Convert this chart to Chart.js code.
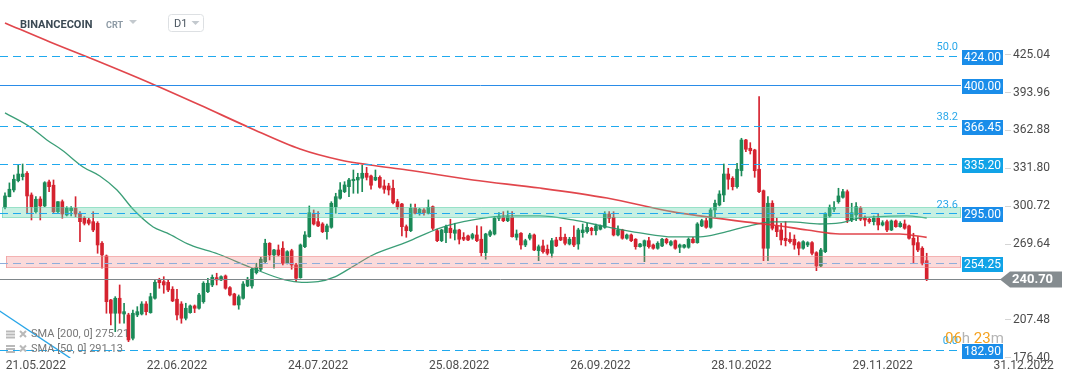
<!DOCTYPE html>
<html><head><meta charset="utf-8">
<script src="https://cdn.jsdelivr.net/npm/chart.js@4.4.1/dist/chart.umd.min.js"></script>
<style>html,body{margin:0;padding:0;background:#fff;}canvas{display:block;}</style>
</head><body>
<canvas id="c" width="1072" height="382"></canvas>
<script>
// ---- data (daily candles, one per day) ----
const opens = [
299.9,308.6,314.1,321.7,325.0,327.8,310.0,296.3,306.7,301.0,
320.7,318.0,296.3,304.5,293.6,297.1,299.1,295.0,290.9,289.5,
288.1,286.8,270.4,260.0,223.9,213.0,225.3,212.4,211.6,192.5,
211.6,212.4,220.6,213.5,225.3,240.3,238.9,238.4,232.7,224.5,
220.6,208.9,213.5,219.0,217.1,222.5,230.7,236.2,242.2,240.3,
243.6,234.0,228.8,219.8,225.3,235.4,235.4,246.3,249.1,255.3,
270.4,260.8,264.9,266.3,254.0,264.3,252.6,242.2,267.6,275.8,
295.0,288.1,286.2,279.9,283.5,300.4,307.3,312.7,316.8,321.7,
322.3,323.7,327.8,325.6,322.3,324.5,317.4,317.4,315.5,304.5,
302.6,284.0,280.7,299.1,295.5,297.7,295.0,300.4,280.7,272.5,
279.1,282.7,278.6,281.3,275.3,276.4,274.7,277.2,273.7,262.7,
277.0,278.0,290.9,291.7,288.9,291.7,275.3,278.6,269.0,274.5,
277.2,264.3,268.2,265.5,262.2,273.1,275.3,275.3,269.8,275.3,
269.8,279.1,279.9,282.7,280.7,281.9,283.5,294.4,291.7,277.2,
281.3,274.5,277.2,273.7,267.6,268.2,272.5,269.0,266.3,268.2,
273.7,269.0,272.5,267.1,267.1,267.1,273.7,270.9,284.6,288.9,
283.5,297.7,301.8,310.0,327.2,323.7,316.8,330.0,355.1,348.3,
346.9,331.1,313.5,266.3,303.2,284.6,281.3,274.5,273.7,273.7,
270.9,266.3,269.0,270.9,262.7,251.8,263.5,292.8,298.3,304.5,
308.1,312.7,289.5,293.6,299.1,291.4,290.1,288.1,290.9,285.4,
288.1,281.3,288.7,284.0,286.2,284.6,274.5,270.9,266.3,256.1];
const highs = [
311.7,319.9,326.4,334.6,335.4,329.1,311.7,308.6,308.6,320.9,
322.3,322.3,304.6,305.9,300.4,300.4,308.6,296.3,292.2,290.9,
296.3,288.1,271.7,260.8,224.5,226.6,236.2,221.2,213.0,215.7,
218.4,222.5,222.5,229.4,240.3,241.7,243.0,240.3,234.8,232.7,
222.5,221.2,219.8,219.8,229.4,238.9,241.7,244.4,245.8,243.6,
244.4,234.8,229.4,228.0,238.9,242.5,249.9,254.0,258.9,273.7,
270.9,265.5,269.0,271.7,264.3,265.5,254.0,269.8,279.9,301.0,
297.7,296.3,287.3,286.2,304.5,311.4,320.1,320.9,323.7,330.5,
327.8,334.6,332.7,326.4,330.5,325.6,322.3,319.6,322.3,306.5,
303.2,285.4,302.6,302.6,299.1,298.8,305.9,301.0,281.9,281.9,
285.4,290.1,286.8,281.9,279.1,277.2,278.6,284.6,284.0,278.6,
281.3,292.2,295.5,296.3,296.9,296.3,281.3,279.1,273.7,278.6,
278.0,269.0,273.1,269.0,274.5,275.3,283.5,278.0,275.3,284.6,
282.7,286.2,286.8,283.5,286.2,285.4,296.3,296.3,296.3,284.6,
281.9,278.0,278.0,274.2,270.4,273.1,275.3,269.8,271.7,274.5,
274.5,272.5,273.1,269.8,269.6,274.8,275.3,287.3,290.1,290.9,
299.1,305.9,313.5,335.4,331.9,325.0,336.0,356.5,355.7,352.9,
347.5,390.6,314.1,308.6,305.3,290.9,286.8,288.1,279.1,277.2,
271.7,272.5,271.7,271.7,263.5,266.3,295.5,301.8,304.5,315.5,
314.7,314.1,303.2,303.7,300.4,292.8,290.9,292.8,295.0,288.9,
289.5,289.5,289.5,288.1,289.5,285.4,278.6,275.8,267.6,262.2];
const lows = [
298.5,308.4,312.5,320.7,322.3,295.2,289.5,295.0,289.5,300.4,
312.7,295.5,295.5,290.9,292.8,292.8,292.2,271.7,285.4,285.4,
279.9,262.2,249.9,213.0,203.4,197.9,204.8,204.8,189.7,191.1,
210.2,211.6,211.6,213.0,224.5,233.5,229.4,230.7,222.5,207.5,
204.8,207.5,213.0,213.5,216.3,221.2,229.9,234.8,236.2,239.7,
232.7,227.2,219.8,216.3,224.5,234.8,233.5,245.2,247.9,254.5,
256.7,249.9,260.0,252.6,253.4,249.1,238.9,241.7,266.8,275.3,
285.4,284.0,279.1,273.7,282.7,295.0,306.5,311.9,308.6,311.4,
311.4,312.7,322.3,314.7,321.7,315.5,311.4,310.0,302.6,298.3,
276.4,275.3,279.9,294.4,293.4,293.4,294.4,281.3,271.7,271.7,
270.9,274.5,273.1,269.8,272.5,272.5,273.7,271.7,260.0,257.3,
275.8,277.2,288.9,288.1,288.1,275.3,273.1,265.5,267.6,273.1,
264.3,256.1,262.2,260.8,258.9,267.6,272.5,269.0,269.0,267.6,
265.5,275.3,278.6,277.2,277.2,281.3,282.7,287.3,276.4,276.4,
273.7,273.7,271.7,265.5,267.1,255.3,266.3,265.5,265.5,267.6,
269.8,268.2,265.5,262.7,266.3,266.3,270.4,270.4,284.0,282.7,
282.7,292.2,301.0,304.5,314.7,314.1,315.5,325.6,345.5,343.6,
324.5,311.9,256.1,256.1,281.3,275.8,269.0,268.2,270.4,265.5,
260.8,265.5,267.6,260.8,247.9,251.2,262.7,291.7,296.3,303.2,
307.3,287.3,288.1,288.9,288.9,284.6,286.8,285.4,281.3,284.6,
279.9,280.7,283.5,283.5,281.9,273.7,254.0,263.5,252.6,239.7];
const closes = [
309.2,314.7,322.9,327.2,327.2,309.2,300.4,306.5,301.0,320.1,
316.8,296.3,304.5,294.4,299.1,299.1,294.4,288.1,286.8,286.8,
281.3,269.0,260.8,222.5,213.0,225.3,213.0,214.3,191.1,213.0,
214.3,220.6,214.3,226.6,238.4,238.1,236.2,232.1,223.1,211.6,
208.9,217.1,219.0,217.1,228.0,237.6,237.6,242.5,240.3,243.0,
233.5,228.0,219.8,226.6,237.0,240.9,249.1,250.7,257.3,270.4,
260.8,264.9,260.8,254.0,263.5,252.6,241.7,269.0,277.2,295.5,
286.2,284.6,279.9,284.6,303.2,308.6,314.1,318.2,322.3,322.9,
324.5,327.8,324.5,318.0,324.5,316.3,314.7,314.1,303.7,300.4,
284.0,280.7,299.1,295.0,298.3,295.5,299.9,282.7,272.5,281.3,
284.0,279.1,281.3,273.7,273.7,273.1,277.5,272.5,262.7,278.0,
279.9,290.9,292.2,288.9,292.2,275.8,278.0,269.0,272.5,277.2,
264.9,267.6,263.5,262.2,272.5,268.2,273.1,270.4,273.7,269.0,
281.3,281.3,283.5,280.7,284.6,284.6,294.4,290.9,277.2,281.3,
274.5,277.2,272.5,267.6,269.8,272.5,267.6,266.3,270.4,273.7,
270.9,271.7,266.3,269.0,269.0,273.7,270.9,286.2,288.9,283.5,
297.7,303.2,310.8,327.2,322.9,316.8,331.1,355.1,347.5,346.3,
329.9,312.7,266.3,303.2,282.7,279.9,273.1,272.5,271.7,269.0,
266.3,271.7,270.9,262.2,251.8,264.9,294.4,299.9,299.9,309.2,
312.7,289.5,295.5,300.4,290.1,289.5,288.1,290.9,285.4,287.3,
281.3,288.7,284.0,286.8,282.7,274.5,269.0,264.9,254.0,240.7];

// moving averages, read at sample candles
const sma200Idx = [0,10.2,21.5,32.9,44.2,55.6,66.9,76,82.8,91.2,106.1,121.3,136.5,151.5,157.6,167.8,174.1,181.9,189.3,196.8,202.9,209];
const sma200Val = [451.1,435.5,419.1,401.9,383.8,365.0,347.7,338.7,334.6,330.5,322.3,315.7,307.5,296.1,292.8,287.9,285.4,281.3,278.0,278.0,278.0,275.21];
const sma50Idx = [0,5.7,9.5,12.9,17.7,21.5,25.4,29.0,33.6,36.7,42.0,48.3,56.0,63.5,67.3,71.0,74.8,78.7,83.4,91.2,98.6,106.1,113.8,121.3,128.8,136.5,144.0,151.5,157.6,162.6,167.8,174.1,178.0,184.8,189.3,193.9,196.8,204.5,209];
const sma50Val = [377.3,365.8,355.1,346.9,333.0,325.6,314.1,298.5,283.8,278.9,269.0,261.6,250.1,240.3,238.3,238.9,242.8,250.9,260.8,271.5,282.9,289.5,292.8,292.8,289.5,283.8,278.9,275.6,275.6,278.9,283.8,287.9,287.9,286.2,287.1,291.2,292.0,292.8,291.13];
const trendIdx = [-1.2, 14.8];
const trendVal = [214.9, 176.2];

// axes
const xTickPos = [7, 39, 71, 103, 135, 167, 199, 231];
const xTickLabels = ['21.05.2022','22.06.2022','24.07.2022','25.08.2022','26.09.2022','28.10.2022','29.11.2022','31.12.2022'];
const yTicks = [176.40, 207.48, 238.56, 269.64, 300.72, 331.80, 362.88, 393.96, 425.04];

// levels and zones
const dashedLevels = [424.00, 366.45, 335.20, 295.00, 182.90];
const fibLevels = [424.00, 366.45, 295.00, 182.90];
const fibTexts = ['50.0', '38.2', '23.6', '0.0'];
const solidLevel = 400.00;
const supportLevel = 254.25;
const lastPrice = 240.70;
const boxLevels = [424.00, 400.00, 366.45, 335.20, 295.00, 254.25, 182.90];
const zoneTeal = [291.96, 300.2];
const zonePink = [250.7, 260.0];
const legendTexts = ['SMA [200, 0] 275.21', 'SMA [50, 0] 291.13'];
const symbol = 'BINANCECOIN', subLabel = 'CRT', period = 'D1';
const countdown = ['06', 'h', ' 23', 'm'];

const GREEN = '#1b8a58', RED = '#d5222f';
const FONT = 'Roboto, "Noto Sans", sans-serif';
Chart.defaults.font.family = FONT;

const idx = opens.map((_, i) => i);
const upColor = c => closes[c.dataIndex] >= opens[c.dataIndex] ? GREEN : RED;

const overlay = {
  id: 'overlay',
  afterDatasetsDraw(chart) {
    const {ctx, scales: {x, y}} = chart;
    const XE = 961;
    const py = v => Math.round(y.getPixelForValue(v)) + 0.5;
    ctx.save();
    const zone = (z, xl, fill, stroke) => {
      const t = py(z[1]), b = py(z[0]);
      ctx.fillStyle = fill; ctx.fillRect(xl, t, XE - xl, b - t);
      ctx.strokeStyle = stroke; ctx.lineWidth = 1;
      ctx.beginPath(); ctx.moveTo(xl, t); ctx.lineTo(XE, t); ctx.moveTo(xl, b); ctx.lineTo(XE, b);
      ctx.moveTo(xl + 0.5, t); ctx.lineTo(xl + 0.5, b); ctx.moveTo(XE - 0.5, t); ctx.lineTo(XE - 0.5, b); ctx.stroke();
    };
    zone(zoneTeal, 2, 'rgba(100,214,176,0.36)', 'rgba(90,205,165,0.55)');
    zone(zonePink, 6, 'rgba(240,120,120,0.27)', 'rgba(236,130,130,0.55)');
    ctx.lineWidth = 1;
    ctx.setLineDash([8, 5]);
    ctx.strokeStyle = '#1fa9ee';
    dashedLevels.forEach(v => { const p = py(v); ctx.beginPath(); ctx.moveTo(0, p); ctx.lineTo(XE, p); ctx.stroke(); });
    ctx.strokeStyle = '#8eaedb';
    { const p = py(supportLevel); ctx.beginPath(); ctx.moveTo(0, p); ctx.lineTo(XE, p); ctx.stroke(); }
    ctx.setLineDash([]);
    ctx.strokeStyle = '#2a8ce8';
    { const p = py(solidLevel); ctx.beginPath(); ctx.moveTo(0, p); ctx.lineTo(XE, p); ctx.stroke(); }
    ctx.strokeStyle = '#7f868a';
    { const p = py(lastPrice); ctx.beginPath(); ctx.moveTo(0, p); ctx.lineTo(1001, p); ctx.stroke(); }
    ctx.font = '11px ' + FONT; ctx.fillStyle = '#2aa8ea'; ctx.textAlign = 'right'; ctx.textBaseline = 'middle';
    fibLevels.forEach((v, i) => ctx.fillText(fibTexts[i], 958, y.getPixelForValue(v) - 8.5));
    ctx.font = '12px ' + FONT; ctx.textAlign = 'center';
    boxLevels.forEach(v => {
      const c = y.getPixelForValue(v) + 1.2;
      ctx.fillStyle = (v === 335.20 || v === 254.25) ? '#11a3e7' : '#1a8de9';
      ctx.fillRect(962, Math.round(c - 7.5), 41, 15);
      ctx.fillStyle = '#ffffff';
      ctx.fillText(v.toFixed(2), 982.5, c + 0.5);
    });
    {
      const c = y.getPixelForValue(lastPrice);
      ctx.fillStyle = '#858c90';
      ctx.beginPath(); ctx.moveTo(1000, c); ctx.lineTo(1010, c - 8); ctx.lineTo(1062, c - 8); ctx.lineTo(1062, c + 8); ctx.lineTo(1010, c + 8); ctx.closePath(); ctx.fill();
      ctx.fillStyle = '#ffffff'; ctx.font = 'bold 13px ' + FONT; ctx.textAlign = 'left';
      ctx.fillText(lastPrice.toFixed(2), 1012, c + 0.5);
    }
    ctx.restore();
  },
  afterDraw(chart) {
    const {ctx} = chart;
    ctx.save();
    ctx.textBaseline = 'alphabetic'; ctx.textAlign = 'left';
    ctx.font = 'bold 11px ' + FONT; ctx.fillStyle = '#3b4954'; ctx.fillText(symbol, 20, 28);
    ctx.font = 'bold 9px ' + FONT; ctx.fillStyle = '#8d9aa5'; ctx.fillText(subLabel, 106, 28);
    const tri = (x0, y0) => { ctx.fillStyle = '#c3c9ce'; ctx.beginPath(); ctx.moveTo(x0, y0); ctx.lineTo(x0 + 8, y0); ctx.lineTo(x0 + 4, y0 + 4); ctx.closePath(); ctx.fill(); };
    tri(129, 20);
    ctx.strokeStyle = '#dde0e3'; ctx.lineWidth = 1;
    ctx.beginPath(); ctx.roundRect(168.5, 14.5, 35, 17, 3); ctx.stroke();
    ctx.font = '11px ' + FONT; ctx.fillStyle = '#4a5560'; ctx.fillText(period, 174, 27);
    tri(191.5, 21);
    legendTexts.forEach((t, i) => {
      const c = 334.5 + i * 14.5;
      ctx.fillStyle = '#b9b9b9';
      ctx.fillRect(6, c - 4, 9, 2); ctx.fillRect(6, c - 1, 9, 2); ctx.fillRect(6, c + 2, 9, 2);
      ctx.strokeStyle = '#b9b9b9'; ctx.lineWidth = 2;
      ctx.beginPath(); ctx.moveTo(20, c - 3.5); ctx.lineTo(26, c + 2.5); ctx.moveTo(26, c - 3.5); ctx.lineTo(20, c + 2.5); ctx.stroke();
      ctx.font = '11px ' + FONT; ctx.fillStyle = '#787878'; ctx.textBaseline = 'middle';
      ctx.fillText(t, 31, c);
    });
    ctx.font = '15px ' + FONT; ctx.textBaseline = 'alphabetic';
    let cx = 945;
    countdown.forEach((s, i) => {
      ctx.fillStyle = i % 2 === 0 ? '#f5a21f' : '#b4b4b4';
      ctx.fillText(s, cx, 343); cx += ctx.measureText(s).width;
    });
    ctx.restore();
  }
};

new Chart(document.getElementById('c'), {
  type: 'bar',
  data: {
    datasets: [
      { type: 'line', label: 'SMA 200', data: sma200Idx.map((v, i) => ({x: v, y: sma200Val[i]})), borderColor: 'rgba(222,50,56,0.9)', borderWidth: 1.7, pointRadius: 0, cubicInterpolationMode: 'monotone', order: 1 },
      { type: 'line', label: 'SMA 50', data: sma50Idx.map((v, i) => ({x: v, y: sma50Val[i]})), borderColor: 'rgba(38,148,104,0.9)', borderWidth: 1.3, pointRadius: 0, cubicInterpolationMode: 'monotone', order: 1 },
      { type: 'line', label: 'trend', data: trendIdx.map((v, i) => ({x: v, y: trendVal[i]})), borderColor: '#2aa6e8', borderWidth: 1.3, pointRadius: 0, order: 1 },
      { type: 'bar', label: 'wick', data: idx.map(i => ({x: i, y: [lows[i], highs[i]]})), backgroundColor: upColor, barThickness: 1, grouped: false, order: 3 },
      { type: 'bar', label: 'body', data: idx.map(i => ({x: i, y: [opens[i], closes[i]]})), backgroundColor: upColor, barThickness: 3, minBarLength: 1, grouped: false, order: 2 }
    ]
  },
  options: {
    responsive: false, animation: false,
    layout: {padding: 0},
    plugins: {legend: {display: false}, tooltip: {enabled: false}},
    scales: {
      x: {
        type: 'linear', min: -1.134, max: 226.76, offset: false,
        grid: {display: false, drawTicks: false}, border: {display: false},
        afterBuildTicks: s => { s.ticks = xTickPos.map(v => ({value: v})); },
        afterFit: s => { s.height = 24; s.paddingLeft = 0; s.paddingRight = 0; s.paddingTop = 0; s.paddingBottom = 0; },
        ticks: {autoSkip: false, maxRotation: 0, padding: 1, color: '#4d4d4d', font: {size: 12}, callback: (v, i) => xTickLabels[i]}
      },
      y: {
        type: 'linear', position: 'right', min: 176.3, max: 469.9,
        grid: {display: true, drawOnChartArea: false, drawTicks: true, tickLength: 6, color: '#d5d5d5'}, border: {display: false},
        afterBuildTicks: s => { s.ticks = yTicks.map(v => ({value: v})); },
        afterFit: s => { s.width = 67; s.paddingTop = 0; s.paddingBottom = 0; s.paddingLeft = 0; s.paddingRight = 0; },
        ticks: {padding: 2, color: '#4a4a4a', font: {size: 12}, callback: v => v.toFixed(2)}
      }
    }
  },
  plugins: [overlay]
});
</script>
</body></html>
